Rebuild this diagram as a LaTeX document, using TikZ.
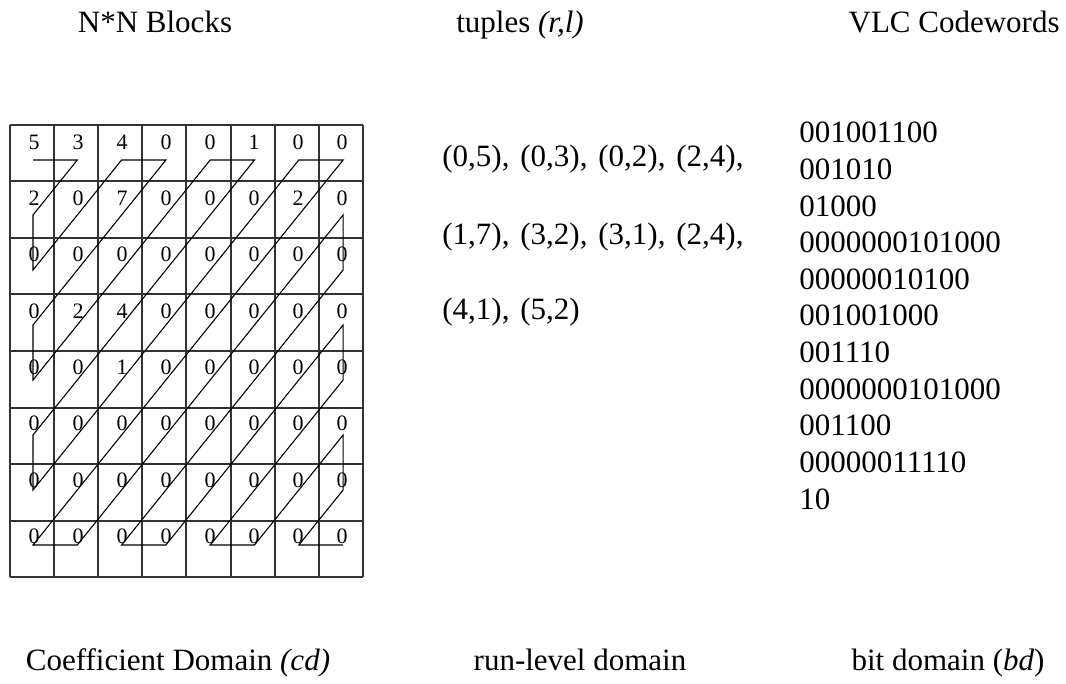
\documentclass[tikz,border=0pt]{standalone}
\usepackage{fontspec}
\setmainfont{Liberation Serif}
\newcommand{\tgap}{\hspace{5.43pt}}
\begin{document}
\begin{tikzpicture}[x=0.5pt,y=-0.5pt,
  label/.style={font=\fontsize{15.5}{18}\selectfont, inner sep=0pt},
  cellnum/.style={font=\fontsize{11}{13}\selectfont, inner sep=0pt},
  gridline/.style={line width=1pt, draw=black!80},
  scan/.style={line width=0.55pt, draw=black}]
\useasboundingbox (0,0) rectangle (1066,684);

% column headings
\node[label, anchor=base] (t1) at (155,33) {N*N Blocks};
\node[label, anchor=base] (t2) at (520,33) {tuples \textit{(r,l)}};
\node[label, anchor=base east] (t3) at (1060,33) {VLC Codewords};

% domain captions
\node[label, anchor=base] (b1) at (178,670) {Coefficient Domain \textit{(cd)}};
\node[label, anchor=base] (b2) at (580,670) {run-level domain};
\node[label, anchor=base] (b3) at (948,670) {bit domain (\textit{bd})};

% 8x8 coefficient block
\foreach \i in {0,...,8} {
  \draw[gridline] ({10+44.1*\i},125) -- ({10+44.1*\i},577);
  \draw[gridline] (10,{125+56.5*\i}) -- (362.8,{125+56.5*\i});
}
\foreach \vals [count=\r from 0] in {{5,3,4,0,0,1,0,0},{2,0,7,0,0,0,2,0},{0,0,0,0,0,0,0,0},{0,2,4,0,0,0,0,0},{0,0,1,0,0,0,0,0},{0,0,0,0,0,0,0,0},{0,0,0,0,0,0,0,0},{0,0,0,0,0,0,0,0}} {
  \foreach \v [count=\c from 0] in \vals {
    \node[cellnum] (n-\r-\c) at ({34+44*\c},{142+56.3*\r}) {\v};
  }
}

% zigzag scan points
\foreach \r in {0,...,7} {
  \foreach \c in {0,...,7} {
    \coordinate (p-\r-\c) at ({33+44.3*\c},{160+55*\r});
  }
}
\draw[scan] (p-0-0) -- (p-0-1) -- (p-1-0) -- (p-2-0) -- (p-0-2) -- (p-0-3)
  -- (p-3-0) -- (p-4-0) -- (p-0-4) -- (p-0-5) -- (p-5-0) -- (p-6-0)
  -- (p-0-6) -- (p-0-7) -- (p-7-0) -- (p-7-1) -- (p-1-7) -- (p-2-7)
  -- (p-7-2) -- (p-7-3) -- (p-3-7) -- (p-4-7) -- (p-7-4) -- (p-7-5)
  -- (p-5-7) -- (p-6-7) -- (p-7-6) -- (p-7-7);

% run-level tuples
\node[label, anchor=base west] (r1) at (442,167) {(0,5),\tgap(0,3),\tgap(0,2),\tgap(2,4),};
\node[label, anchor=base west] (r2) at (442,245) {(1,7),\tgap(3,2),\tgap(3,1),\tgap(2,4),};
\node[label, anchor=base west] (r3) at (442,320) {(4,1),\tgap(5,2)};

% variable length codewords
\foreach \w [count=\k from 0] in {001001100,001010,01000,0000000101000,00000010100,001001000,001110,0000000101000,001100,00000011110,10} {
  \node[label, anchor=base west] (w\k) at (799,{143+36.6*\k}) {\w};
}
\end{tikzpicture}
\end{document}
